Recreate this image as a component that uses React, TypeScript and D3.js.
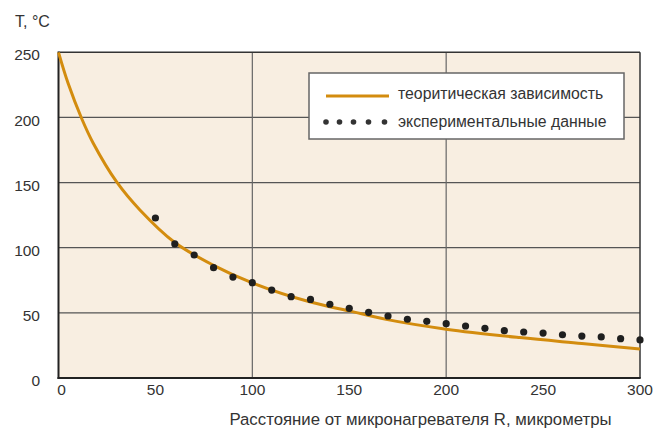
import React from 'react'
import * as d3 from 'd3'

// теоретическая кривая
const curveR = [0, 5, 12, 18, 30, 42, 60, 80, 100, 130, 150, 169, 200, 238, 270, 300]
const curveT = [250, 226, 199, 180, 150.5, 129, 104, 86.5, 73, 58.3, 51.5, 45, 37.5, 31, 26.5, 22.3]

// экспериментальные точки
const expR = [50, 60, 70, 80, 90, 100, 110, 120, 130, 140, 150, 160, 170, 180, 190, 200, 210, 220, 230, 240, 250, 260, 270, 280, 290, 300]
const expT = [122.8, 102.9, 94.4, 84.7, 77.5, 73.2, 67.5, 62.4, 60.3, 56.6, 53.5, 50.4, 47.6, 45.1, 43.5, 41.7, 39.9, 38.1, 36.3, 35.3, 34.5, 33.2, 32.2, 31.5, 30.2, 29.2]

const xTicks = [0, 50, 100, 150, 200, 250, 300]
const yTicks = [0, 50, 100, 150, 200, 250]
const xGrid = [100, 200]
const yGrid = [50, 100, 150, 200]

const legendLabels = ['теоритическая зависимость', 'экспериментальные данные']

const font = '"Liberation Sans", Arial, sans-serif'
const textColor = '#333'
const curveColor = '#d38c0e'

const App = () => {
  const width = 655
  const height = 433
  const left = 58.5
  const right = 640
  const top = 52.3
  const bottom = 378

  const x = d3.scaleLinear().domain([0, 300]).range([left, right])
  const y = d3.scaleLinear().domain([0, 250]).range([bottom, top])

  const line = d3.line<number>()
    .x((d, i) => x(curveR[i]))
    .y(d => y(d))
    .curve(d3.curveCatmullRom.alpha(0.5))

  const legendDots = [326, 339.5, 353.5, 368.5, 384.5]

  return (
    <svg width={width} height={height} style={{ position: 'absolute', left: 0, top: 0, background: '#fff' }}>
      <rect x={left} y={top} width={right - left} height={bottom - top} fill="#f8eee1" />

      {/* сетка */}
      {yGrid.map(v => (
        <line key={'gy' + v} x1={left} x2={right} y1={y(v)} y2={y(v)} stroke="#555" strokeWidth={1.2} />
      ))}
      {xGrid.map(v => (
        <line key={'gx' + v} x1={x(v)} x2={x(v)} y1={top} y2={bottom} stroke="#666" strokeWidth={1.2} />
      ))}

      {/* рамка */}
      <line x1={left} x2={right} y1={top} y2={top} stroke="#333" strokeWidth={1.5} />
      <line x1={right} x2={right} y1={top} y2={bottom} stroke="#333" strokeWidth={1.5} />
      <line x1={left} x2={left} y1={top - 0.7} y2={bottom + 1} stroke="#222" strokeWidth={2} />
      <line x1={left - 1} x2={right + 0.7} y1={bottom} y2={bottom} stroke="#222" strokeWidth={2} />

      <path d={line(curveT) || ''} fill="none" stroke={curveColor} strokeWidth={3} />

      {expR.map((r, i) => (
        <circle key={'p' + r} cx={x(r)} cy={y(expT[i])} r={3.6} fill="#1f1f1f" />
      ))}

      {/* оси */}
      {yTicks.map(v => (
        <text key={'ty' + v} x={40} y={y(v) + 4} dominantBaseline="middle" textAnchor="end"
          fontFamily={font} fontSize={15.5} fill={textColor}>{v}</text>
      ))}
      {xTicks.map(v => (
        <text key={'tx' + v} x={v === 0 ? x(v) + 3 : x(v)} y={390.5} dominantBaseline="middle" textAnchor="middle"
          fontFamily={font} fontSize={15.5} fill={textColor}>{v}</text>
      ))}
      <text x={15} y={23} dominantBaseline="middle" fontFamily={font} fontSize={16} fill={textColor}>T, °C</text>
      <text x={420.5} y={421} dominantBaseline="middle" textAnchor="middle" fontFamily={font} fontSize={16.8} fill={textColor}>
        Расстояние от микронагревателя R, микрометры
      </text>

      {/* легенда */}
      <rect x={309} y={73} width={315} height={66} fill="#fff" stroke="#666" strokeWidth={1.5} />
      <line x1={326} x2={389} y1={96} y2={96} stroke={curveColor} strokeWidth={3} />
      {legendDots.map(cx => (
        <circle key={'ld' + cx} cx={cx} cy={122} r={2.8} fill="#333" />
      ))}
      <text x={398} y={94.5} dominantBaseline="middle" fontFamily={font} fontSize={15.8} fill={textColor}>{legendLabels[0]}</text>
      <text x={398} y={122.5} dominantBaseline="middle" fontFamily={font} fontSize={15.8} fill={textColor}>{legendLabels[1]}</text>
    </svg>
  )
}

export default App
